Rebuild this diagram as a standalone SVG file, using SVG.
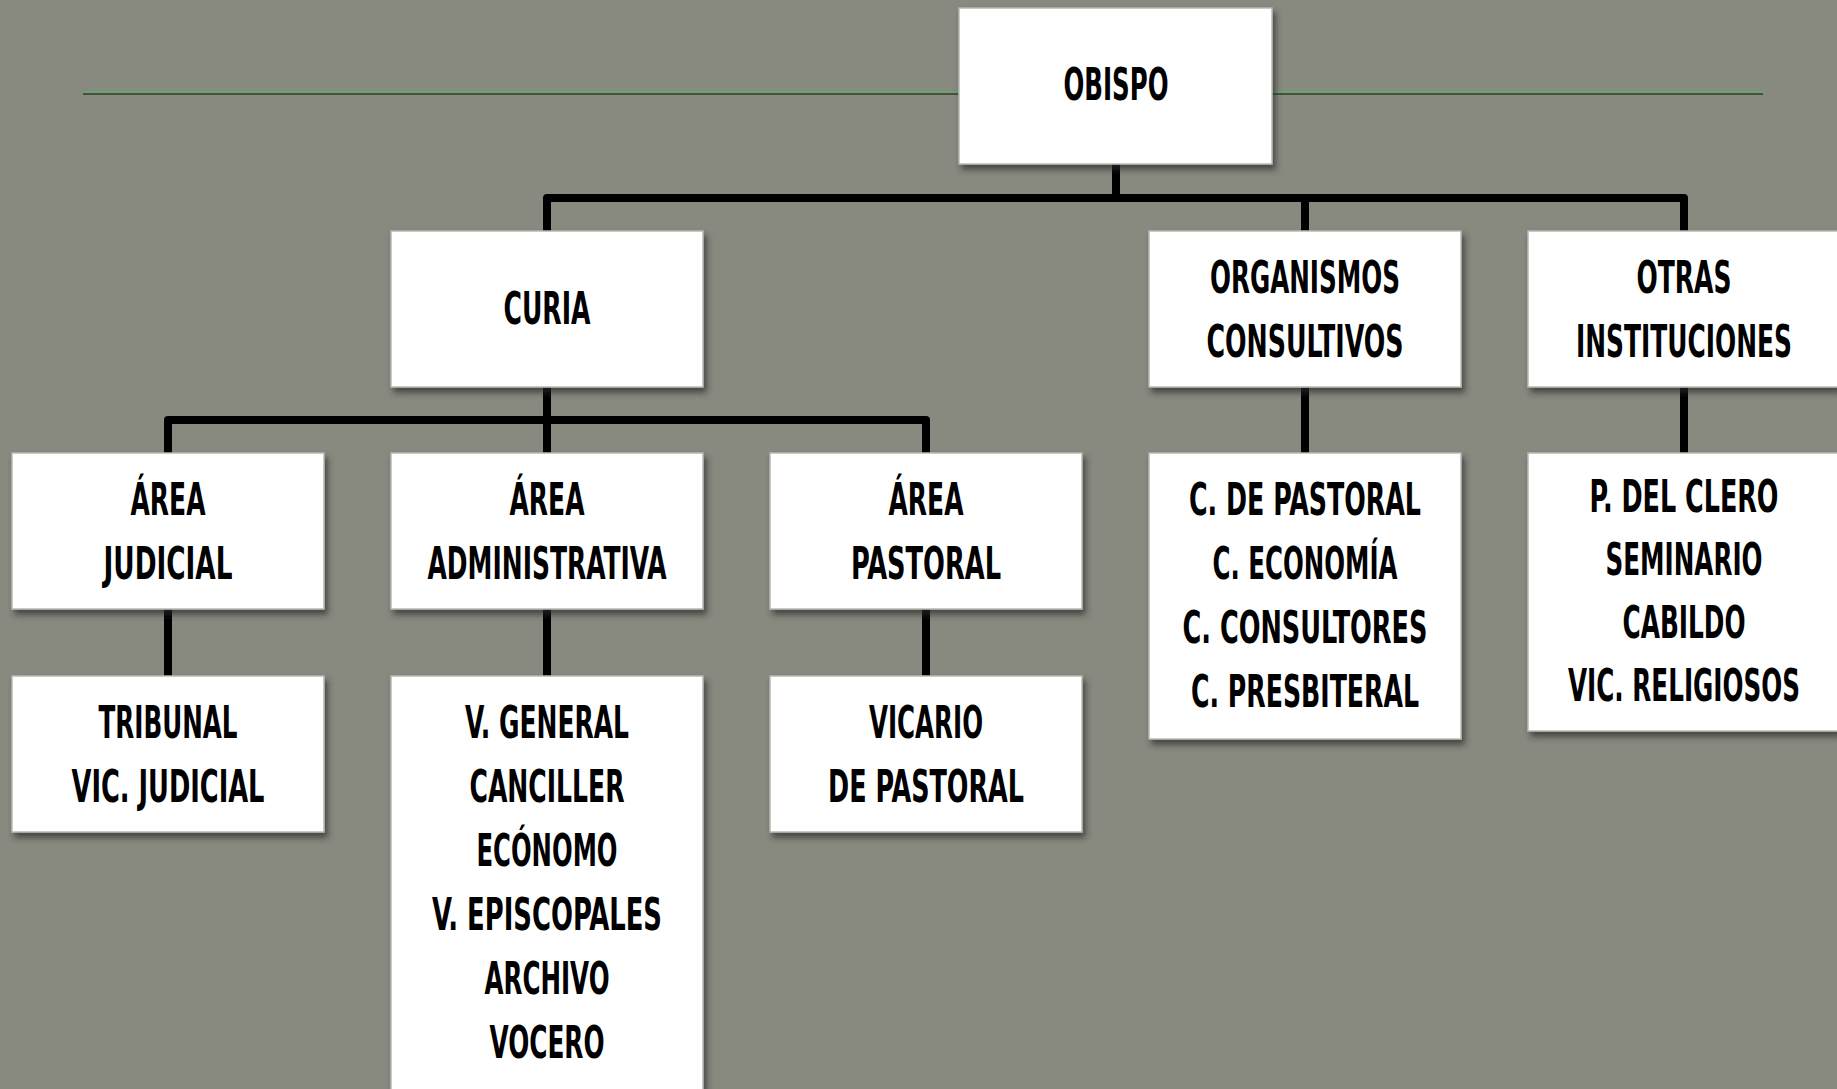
<svg xmlns="http://www.w3.org/2000/svg" width="1837" height="1089" viewBox="0 0 1837 1089">
<defs>
<filter id="sh" x="-10%" y="-10%" width="130%" height="130%">
<feDropShadow dx="3" dy="5" stdDeviation="3" flood-color="#2a2a26" flood-opacity="0.7"/>
</filter>
<style>
.box{fill:#ffffff;stroke:#b8b8b4;stroke-width:1.5;filter:url(#sh)}
.t{font-family:"Liberation Sans Narrow","DejaVu Sans Condensed","Liberation Sans",sans-serif;font-weight:bold;font-size:44px;fill:#000;text-anchor:middle}
.c{fill:none;stroke:#000;stroke-width:8;stroke-linejoin:round;stroke-linecap:butt}
</style>
</defs>
<rect x="0" y="0" width="1837" height="1089" fill="#88897f"/>
<g id="rule">
<line x1="83" y1="94" x2="1763" y2="94" stroke="#4b4c46" stroke-width="2"/>
<line x1="83" y1="92" x2="1763" y2="92" stroke="#64a86e" stroke-width="2"/>
</g>
<g id="connectors">
<path class="c" d="M1116,164 V198"/>
<path class="c" d="M547,231 V198 H1684 V231"/>
<path class="c" d="M1305,198 V231"/>
<path class="c" d="M547,387 V420"/>
<path class="c" d="M168,453 V420 H926 V453"/>
<path class="c" d="M547,420 V453"/>
<path class="c" d="M1305,387 V453"/>
<path class="c" d="M1684,387 V453"/>
<path class="c" d="M168,609 V676"/>
<path class="c" d="M547,609 V676"/>
<path class="c" d="M926,609 V676"/>
</g>
<g id="obispo">
<rect class="box" x="959" y="8" width="313" height="156"/>
<text class="t" x="1116" y="100" textLength="105" lengthAdjust="spacingAndGlyphs">OBISPO</text>
</g>
<g id="curia">
<rect class="box" x="391" y="231" width="312" height="156"/>
<text class="t" x="547" y="324" textLength="87" lengthAdjust="spacingAndGlyphs">CURIA</text>
</g>
<g id="organismos">
<rect class="box" x="1149" y="231" width="312" height="156"/>
<text class="t" x="1305" y="293" textLength="190" lengthAdjust="spacingAndGlyphs">ORGANISMOS</text>
<text class="t" x="1305" y="357" textLength="197" lengthAdjust="spacingAndGlyphs">CONSULTIVOS</text>
</g>
<g id="otras">
<rect class="box" x="1528" y="231" width="310" height="156"/>
<text class="t" x="1684" y="293" textLength="95" lengthAdjust="spacingAndGlyphs">OTRAS</text>
<text class="t" x="1684" y="357" textLength="216" lengthAdjust="spacingAndGlyphs">INSTITUCIONES</text>
</g>
<g id="area-judicial">
<rect class="box" x="12" y="453" width="312" height="156"/>
<text class="t" x="168" y="515" textLength="75" lengthAdjust="spacingAndGlyphs">ÁREA</text>
<text class="t" x="168" y="579" textLength="129" lengthAdjust="spacingAndGlyphs">JUDICIAL</text>
</g>
<g id="area-administrativa">
<rect class="box" x="391" y="453" width="312" height="156"/>
<text class="t" x="547" y="515" textLength="75" lengthAdjust="spacingAndGlyphs">ÁREA</text>
<text class="t" x="547" y="579" textLength="239" lengthAdjust="spacingAndGlyphs">ADMINISTRATIVA</text>
</g>
<g id="area-pastoral">
<rect class="box" x="770" y="453" width="312" height="156"/>
<text class="t" x="926" y="515" textLength="75" lengthAdjust="spacingAndGlyphs">ÁREA</text>
<text class="t" x="926" y="579" textLength="150" lengthAdjust="spacingAndGlyphs">PASTORAL</text>
</g>
<g id="consejos">
<rect class="box" x="1149" y="453" width="312" height="286"/>
<text class="t" x="1305" y="515" textLength="232" lengthAdjust="spacingAndGlyphs">C. DE PASTORAL</text>
<text class="t" x="1305" y="579" textLength="185" lengthAdjust="spacingAndGlyphs">C. ECONOMÍA</text>
<text class="t" x="1305" y="643" textLength="245" lengthAdjust="spacingAndGlyphs">C. CONSULTORES</text>
<text class="t" x="1305" y="707" textLength="228" lengthAdjust="spacingAndGlyphs">C. PRESBITERAL</text>
</g>
<g id="instituciones">
<rect class="box" x="1528" y="453" width="310" height="278"/>
<text class="t" x="1684" y="512" textLength="189" lengthAdjust="spacingAndGlyphs">P. DEL CLERO</text>
<text class="t" x="1684" y="575" textLength="157" lengthAdjust="spacingAndGlyphs">SEMINARIO</text>
<text class="t" x="1684" y="638" textLength="123" lengthAdjust="spacingAndGlyphs">CABILDO</text>
<text class="t" x="1684" y="701" textLength="232" lengthAdjust="spacingAndGlyphs">VIC. RELIGIOSOS</text>
</g>
<g id="tribunal">
<rect class="box" x="12" y="676" width="312" height="156"/>
<text class="t" x="168" y="738" textLength="139" lengthAdjust="spacingAndGlyphs">TRIBUNAL</text>
<text class="t" x="168" y="802" textLength="193" lengthAdjust="spacingAndGlyphs">VIC. JUDICIAL</text>
</g>
<g id="vicario-general">
<rect class="box" x="391" y="676" width="312" height="420"/>
<text class="t" x="547" y="738" textLength="164" lengthAdjust="spacingAndGlyphs">V. GENERAL</text>
<text class="t" x="547" y="802" textLength="155" lengthAdjust="spacingAndGlyphs">CANCILLER</text>
<text class="t" x="547" y="866" textLength="141" lengthAdjust="spacingAndGlyphs">ECÓNOMO</text>
<text class="t" x="547" y="930" textLength="230" lengthAdjust="spacingAndGlyphs">V. EPISCOPALES</text>
<text class="t" x="547" y="994" textLength="125" lengthAdjust="spacingAndGlyphs">ARCHIVO</text>
<text class="t" x="547" y="1058" textLength="115" lengthAdjust="spacingAndGlyphs">VOCERO</text>
</g>
<g id="vicario-pastoral">
<rect class="box" x="770" y="676" width="312" height="156"/>
<text class="t" x="926" y="738" textLength="114" lengthAdjust="spacingAndGlyphs">VICARIO</text>
<text class="t" x="926" y="802" textLength="196" lengthAdjust="spacingAndGlyphs">DE PASTORAL</text>
</g>
</svg>
